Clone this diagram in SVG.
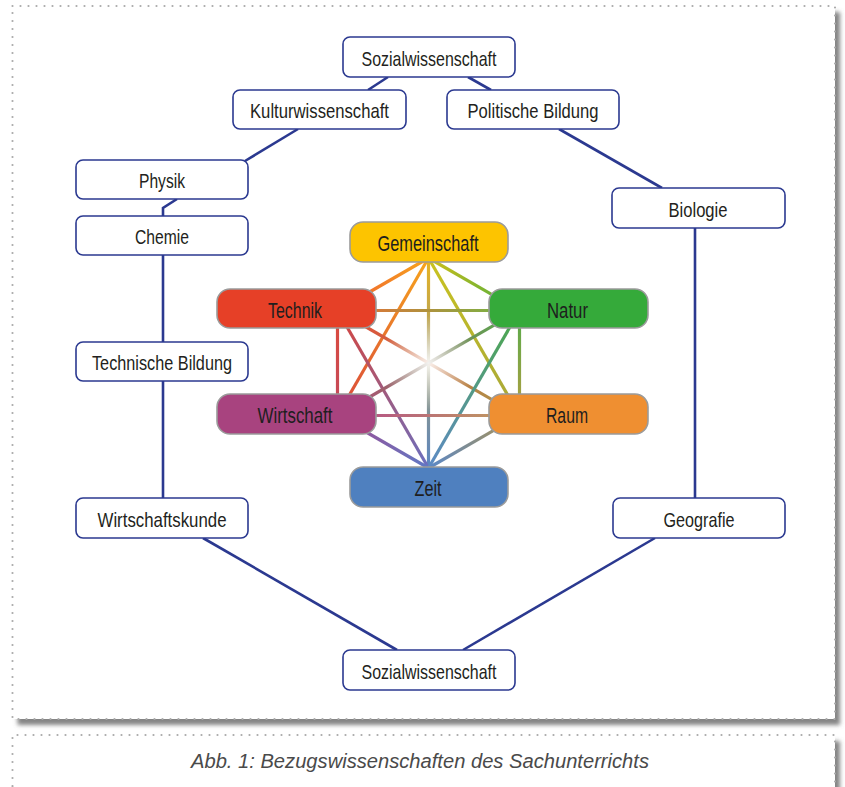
<svg xmlns="http://www.w3.org/2000/svg" width="845" height="787" viewBox="0 0 845 787">
<style>
.frame{fill:#fff;filter:url(#shadow)}
.dots{fill:none;stroke:#aaaaaa;stroke-width:2.2;stroke-dasharray:0 8;stroke-linecap:round}
.box{fill:#fff;stroke:#2b3990;stroke-width:1.6}
.cbox{stroke:#9b9b9b;stroke-width:1.6}
.lbl{font-family:"Liberation Sans",Arial,sans-serif;font-size:21px;fill:#231f20;text-anchor:middle}
.clbl{font-family:"Liberation Sans",Arial,sans-serif;font-size:22px;fill:#1e1e1e;text-anchor:middle}
.conn{fill:none;stroke:#2b3990;stroke-width:2.6}
.hex{fill:none;stroke-width:3.2}
.cap{font-family:"Liberation Sans",Arial,sans-serif;font-size:20px;font-style:italic;fill:#4a4a4a;text-anchor:middle}
</style>
<defs>
<filter id="shadow" x="-5%" y="-5%" width="112%" height="120%">
<feDropShadow dx="5" dy="6" stdDeviation="2.2" flood-color="#6e6e6e" flood-opacity="0.85"/>
</filter>
<radialGradient id="glow" cx="428.5" cy="363" r="48" gradientUnits="userSpaceOnUse">
<stop offset="0" stop-color="#fff" stop-opacity="0.9"/>
<stop offset="0.5" stop-color="#fff" stop-opacity="0.45"/>
<stop offset="1" stop-color="#fff" stop-opacity="0"/>
</radialGradient>
<linearGradient id="gGT" gradientUnits="userSpaceOnUse" x1="428.5" y1="258" x2="337.5" y2="310.5"><stop offset="0" stop-color="#f7a51c"/><stop offset="1" stop-color="#ee5a34"/></linearGradient>
<linearGradient id="gGN" gradientUnits="userSpaceOnUse" x1="428.5" y1="258" x2="519.5" y2="310.5"><stop offset="0" stop-color="#d2bf1a"/><stop offset="1" stop-color="#46ad3f"/></linearGradient>
<linearGradient id="gGW" gradientUnits="userSpaceOnUse" x1="428.5" y1="258" x2="337.5" y2="415.5"><stop offset="0" stop-color="#f7a51c"/><stop offset="1" stop-color="#d9453c"/></linearGradient>
<linearGradient id="gGR" gradientUnits="userSpaceOnUse" x1="428.5" y1="258" x2="519.5" y2="415.5"><stop offset="0" stop-color="#c9c320"/><stop offset="1" stop-color="#a7a63a"/></linearGradient>
<linearGradient id="gGZ" gradientUnits="userSpaceOnUse" x1="428.5" y1="258" x2="428.5" y2="468"><stop offset="0" stop-color="#e8b320"/><stop offset="1" stop-color="#5a86c4"/></linearGradient>
<linearGradient id="gTN" gradientUnits="userSpaceOnUse" x1="337.5" y1="310.5" x2="519.5" y2="310.5"><stop offset="0" stop-color="#f06a36"/><stop offset="1" stop-color="#6cba45"/></linearGradient>
<linearGradient id="gTW" gradientUnits="userSpaceOnUse" x1="337.5" y1="310.5" x2="337.5" y2="415.5"><stop offset="0" stop-color="#de4a39"/><stop offset="1" stop-color="#c0495f"/></linearGradient>
<linearGradient id="gTR" gradientUnits="userSpaceOnUse" x1="337.5" y1="310.5" x2="519.5" y2="415.5"><stop offset="0" stop-color="#e5493a"/><stop offset="1" stop-color="#a7984a"/></linearGradient>
<linearGradient id="gTZ" gradientUnits="userSpaceOnUse" x1="337.5" y1="310.5" x2="428.5" y2="468"><stop offset="0" stop-color="#d9443a"/><stop offset="1" stop-color="#6a6fc0"/></linearGradient>
<linearGradient id="gNW" gradientUnits="userSpaceOnUse" x1="519.5" y1="310.5" x2="337.5" y2="415.5"><stop offset="0" stop-color="#52b04a"/><stop offset="1" stop-color="#b9457a"/></linearGradient>
<linearGradient id="gNR" gradientUnits="userSpaceOnUse" x1="519.5" y1="310.5" x2="519.5" y2="415.5"><stop offset="0" stop-color="#52ab4c"/><stop offset="1" stop-color="#b69f3f"/></linearGradient>
<linearGradient id="gNZ" gradientUnits="userSpaceOnUse" x1="519.5" y1="310.5" x2="428.5" y2="468"><stop offset="0" stop-color="#4aa945"/><stop offset="1" stop-color="#5d8ac6"/></linearGradient>
<linearGradient id="gWR" gradientUnits="userSpaceOnUse" x1="337.5" y1="415.5" x2="519.5" y2="415.5"><stop offset="0" stop-color="#b4478c"/><stop offset="1" stop-color="#c1a15c"/></linearGradient>
<linearGradient id="gWZ" gradientUnits="userSpaceOnUse" x1="337.5" y1="415.5" x2="428.5" y2="468"><stop offset="0" stop-color="#a44a8e"/><stop offset="1" stop-color="#5f79c6"/></linearGradient>
<linearGradient id="gRZ" gradientUnits="userSpaceOnUse" x1="519.5" y1="415.5" x2="428.5" y2="468"><stop offset="0" stop-color="#b1934a"/><stop offset="1" stop-color="#5a88c8"/></linearGradient>
</defs>

<!-- frames -->
<rect class="frame" x="12.5" y="6" width="822.5" height="713"/>
<rect class="dots" x="12.5" y="6" width="822.5" height="713"/>
<rect class="frame" x="12.5" y="735" width="822.5" height="60"/>
<path class="dots" d="M12.5 786 V735 H835 V786"/>
<text class="cap" x="420" y="768" textLength="458" lengthAdjust="spacingAndGlyphs">Abb. 1: Bezugswissenschaften des Sachunterrichts</text>

<!-- outer connectors -->
<g id="connectors">
<line class="conn" x1="388" y1="77" x2="368" y2="90"/>
<line class="conn" x1="468" y1="77" x2="491" y2="90"/>
<line class="conn" x1="298" y1="129" x2="245" y2="161"/>
<polyline class="conn" points="177,199 163,208 163,216"/>
<line class="conn" x1="163" y1="255" x2="163" y2="342"/>
<line class="conn" x1="163" y1="381" x2="163" y2="498"/>
<line class="conn" x1="203" y1="538" x2="397" y2="650"/>
<line class="conn" x1="559" y1="129" x2="662" y2="188"/>
<line class="conn" x1="695" y1="228" x2="695" y2="498"/>
<line class="conn" x1="655" y1="538" x2="463" y2="650"/>
</g>

<!-- inner connectors -->
<g id="hex-connectors">
<line class="hex" stroke="url(#gGT)" x1="428.5" y1="258" x2="337.5" y2="310.5"/>
<line class="hex" stroke="url(#gGN)" x1="428.5" y1="258" x2="519.5" y2="310.5"/>
<line class="hex" stroke="url(#gGW)" x1="428.5" y1="258" x2="337.5" y2="415.5"/>
<line class="hex" stroke="url(#gGR)" x1="428.5" y1="258" x2="519.5" y2="415.5"/>
<line class="hex" stroke="url(#gGZ)" x1="428.5" y1="258" x2="428.5" y2="468"/>
<line class="hex" stroke="url(#gTN)" x1="337.5" y1="310.5" x2="519.5" y2="310.5"/>
<line class="hex" stroke="url(#gTW)" x1="337.5" y1="310.5" x2="337.5" y2="415.5"/>
<line class="hex" stroke="url(#gTR)" x1="337.5" y1="310.5" x2="519.5" y2="415.5"/>
<line class="hex" stroke="url(#gTZ)" x1="337.5" y1="310.5" x2="428.5" y2="468"/>
<line class="hex" stroke="url(#gNW)" x1="519.5" y1="310.5" x2="337.5" y2="415.5"/>
<line class="hex" stroke="url(#gNR)" x1="519.5" y1="310.5" x2="519.5" y2="415.5"/>
<line class="hex" stroke="url(#gNZ)" x1="519.5" y1="310.5" x2="428.5" y2="468"/>
<line class="hex" stroke="url(#gWR)" x1="337.5" y1="415.5" x2="519.5" y2="415.5"/>
<line class="hex" stroke="url(#gWZ)" x1="337.5" y1="415.5" x2="428.5" y2="468"/>
<line class="hex" stroke="url(#gRZ)" x1="519.5" y1="415.5" x2="428.5" y2="468"/>
<circle cx="428.5" cy="363" r="48" fill="url(#glow)"/>
</g>

<!-- outer nodes -->
<g id="sozial-top"><rect class="box" x="343" y="37" width="172" height="40" rx="7"/><text class="lbl" x="429" y="65.5" textLength="135" lengthAdjust="spacingAndGlyphs">Sozialwissenschaft</text></g>
<g id="kultur"><rect class="box" x="233" y="90" width="173" height="39" rx="7"/><text class="lbl" x="319.5" y="118" textLength="139" lengthAdjust="spacingAndGlyphs">Kulturwissenschaft</text></g>
<g id="politik"><rect class="box" x="447" y="90" width="172" height="39" rx="7"/><text class="lbl" x="533" y="118" textLength="131" lengthAdjust="spacingAndGlyphs">Politische Bildung</text></g>
<g id="physik"><rect class="box" x="76" y="160" width="172" height="39" rx="7"/><text class="lbl" x="162" y="188" textLength="46" lengthAdjust="spacingAndGlyphs">Physik</text></g>
<g id="chemie"><rect class="box" x="76" y="216" width="172" height="39" rx="7"/><text class="lbl" x="162" y="244" textLength="54" lengthAdjust="spacingAndGlyphs">Chemie</text></g>
<g id="technische-bildung"><rect class="box" x="76" y="342" width="172" height="39" rx="7"/><text class="lbl" x="162" y="370" textLength="140" lengthAdjust="spacingAndGlyphs">Technische Bildung</text></g>
<g id="wirtschaftskunde"><rect class="box" x="76" y="498" width="172" height="40" rx="7"/><text class="lbl" x="162" y="526.5" textLength="129" lengthAdjust="spacingAndGlyphs">Wirtschaftskunde</text></g>
<g id="biologie"><rect class="box" x="612" y="188" width="173" height="40" rx="7"/><text class="lbl" x="698" y="216.5" textLength="59" lengthAdjust="spacingAndGlyphs">Biologie</text></g>
<g id="geografie"><rect class="box" x="613" y="498" width="172" height="40" rx="7"/><text class="lbl" x="699" y="526.5" textLength="71" lengthAdjust="spacingAndGlyphs">Geografie</text></g>
<g id="sozial-bottom"><rect class="box" x="343" y="650" width="172" height="40" rx="7"/><text class="lbl" x="429" y="678.5" textLength="135" lengthAdjust="spacingAndGlyphs">Sozialwissenschaft</text></g>

<!-- inner nodes -->
<g id="gemeinschaft"><rect class="cbox" fill="#fdc400" x="350" y="222" width="158" height="40" rx="13"/><text class="clbl" x="428" y="251" textLength="101" lengthAdjust="spacingAndGlyphs">Gemeinschaft</text></g>
<g id="technik"><rect class="cbox" fill="#e64027" x="217" y="289" width="159" height="39" rx="13"/><text class="clbl" x="295" y="317.5" textLength="54" lengthAdjust="spacingAndGlyphs">Technik</text></g>
<g id="natur"><rect class="cbox" fill="#35aa3a" x="489" y="289" width="159" height="39" rx="13"/><text class="clbl" x="567.5" y="317.5" textLength="41" lengthAdjust="spacingAndGlyphs">Natur</text></g>
<g id="wirtschaft"><rect class="cbox" fill="#a8437f" x="217" y="394" width="159" height="40" rx="13"/><text class="clbl" x="295" y="423" textLength="75" lengthAdjust="spacingAndGlyphs">Wirtschaft</text></g>
<g id="raum"><rect class="cbox" fill="#ef8f31" x="489" y="394" width="159" height="40" rx="13"/><text class="clbl" x="567" y="423" textLength="42" lengthAdjust="spacingAndGlyphs">Raum</text></g>
<g id="zeit"><rect class="cbox" fill="#4f80bf" x="350" y="467" width="158" height="40" rx="13"/><text class="clbl" x="428" y="496" textLength="27" lengthAdjust="spacingAndGlyphs">Zeit</text></g>
</svg>
